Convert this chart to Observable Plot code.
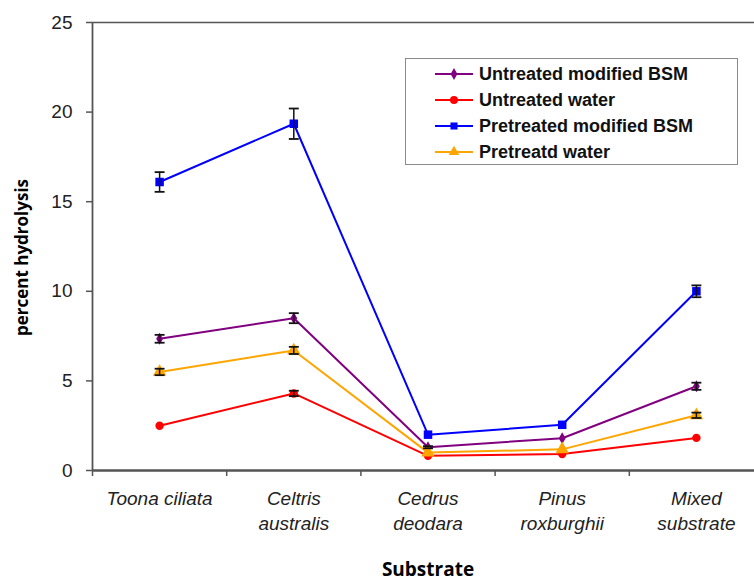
<!DOCTYPE html>
<html>
<head>
<meta charset="utf-8">
<script src="https://cdn.jsdelivr.net/npm/d3@7"></script>
<script src="https://cdn.jsdelivr.net/npm/@observablehq/plot@0.6"></script>
<style>
  html, body { margin: 0; padding: 0; background: #fff; }
  #wrap { position: relative; width: 754px; height: 580px; overflow: hidden; }
  #legend { position: absolute; left: 405px; top: 58px; width: 331px; height: 105px;
    border: 1.5px solid #8a8a8a; background: #fff; box-sizing: content-box;
    font-family: "Liberation Sans", Arial, sans-serif; font-weight: bold; font-size: 18px; color: #111; }
  .row { position: absolute; left: 0; height: 26px; display: flex; align-items: center; }
  .row svg { margin-left: 29px; margin-right: 6px; }
</style>
</head>
<body>
<div id="wrap"><div id="chart"></div><div id="legend"></div></div>
<script>
const categories = ["Toona ciliata", "Celtris\naustralis", "Cedrus\ndeodara", "Pinus\nroxburghii", "Mixed\nsubstrate"];
const seriesNames = ["Untreated modified BSM", "Untreated water", "Pretreated modified BSM", "Pretreatd water"];
const seriesColors = ["#800080", "#ff0000", "#0000ff", "#ffa500"];
const seriesSymbols = ["diamond", "circle", "square", "triangle"];
const seriesSizes = [3.6, 4.2, 4.8, 5];
const untreatedBSM = [7.35, 8.5, 1.3, 1.8, 4.7];
const untreatedBSMErr = [0.22, 0.28, 0.06, 0, 0.2];
const untreatedWater = [2.5, 4.3, 0.82, 0.92, 1.82];
const untreatedWaterErr = [0, 0.15, 0, 0, 0];
const pretreatedBSM = [16.1, 19.35, 2.0, 2.55, 10.0];
const pretreatedBSMErr = [0.55, 0.85, 0, 0, 0.33];
const pretreatedWater = [5.5, 6.7, 1.0, 1.18, 3.08];
const pretreatedWaterErr = [0.18, 0.2, 0, 0, 0.15];
const yTicks = [0, 5, 10, 15, 20, 25];

const seriesValues = [untreatedBSM, untreatedWater, pretreatedBSM, pretreatedWater];
const seriesErrors = [untreatedBSMErr, untreatedWaterErr, pretreatedBSMErr, pretreatedWaterErr];

const data = [];
seriesNames.forEach((s, k) => {
  seriesValues[k].forEach((v, i) => {
    data.push({series: s, k, i, v, e: seriesErrors[k][i]});
  });
});
const idx = categories.map((c, i) => i);
const bounds = [-0.5, 0.5, 1.5, 2.5, 3.5, 4.5];
const capHalf = 0.037;

const marks = [
  Plot.ruleY([25], {stroke: "#555", strokeWidth: 1.5}),
  Plot.ruleX([-0.5], {y1: 0, y2: 25, stroke: "#555", strokeWidth: 1.8}),
  Plot.axisY({ticks: yTicks, label: null, tickSize: 6, tickPadding: 14, fontSize: 19, fontFamily: "Liberation Sans, Arial, sans-serif", color: "#222", stroke: "#555", strokeWidth: 1.5}),
  Plot.axisX({ticks: bounds, label: null, tickFormat: () => "", tickSize: 6, stroke: "#555", strokeWidth: 1.5}),
  Plot.axisX({ticks: idx, label: null, tickSize: 0, tickPadding: 17, tickFormat: i => categories[i], fontSize: 19, fontStyle: "italic", fontFamily: "Liberation Sans, Arial, sans-serif", lineHeight: 1.32, lineAnchor: "top", color: "#222"}),
  Plot.ruleY([0], {stroke: "#555", strokeWidth: 2.5})
];
seriesNames.forEach((s, k) => {
  const d = data.filter(r => r.k === k);
  marks.push(Plot.line(d, {x: "i", y: "v", stroke: seriesColors[k], strokeWidth: 2}));
});
seriesNames.forEach((s, k) => {
  const d = data.filter(r => r.k === k);
  marks.push(Plot.dot(d, {x: "i", y: "v", symbol: seriesSymbols[k], r: seriesSizes[k], fill: seriesColors[k], stroke: "none"}));
});
const errs = data.filter(d => d.e > 0);
marks.push(Plot.ruleX(errs, {x: "i", y1: d => d.v - d.e, y2: d => d.v + d.e, stroke: "#111", strokeWidth: 1.5}));
marks.push(Plot.link(errs, {x1: d => d.i - capHalf, x2: d => d.i + capHalf, y1: d => d.v + d.e, y2: d => d.v + d.e, stroke: "#111", strokeWidth: 1.8}));
marks.push(Plot.link(errs, {x1: d => d.i - capHalf, x2: d => d.i + capHalf, y1: d => d.v - d.e, y2: d => d.v - d.e, stroke: "#111", strokeWidth: 1.8}));
marks.push(Plot.text(["percent hydrolysis"], {frameAnchor: "left", textAnchor: "middle", rotate: -90, dx: -70, dy: 11, fontSize: 17, fontWeight: "bold", fontFamily: "Open Sans, sans-serif", fill: "#000"}));
marks.push(Plot.text(["Substrate"], {frameAnchor: "bottom", dy: 105, fontSize: 19, fontWeight: "bold", fontFamily: "Open Sans, sans-serif", fill: "#000"}));

const chart = Plot.plot({
  width: 754,
  height: 580,
  marginTop: 22,
  marginBottom: 110,
  marginLeft: 92,
  marginRight: -9,
  x: {type: "linear", domain: [-0.5, 4.5]},
  y: {domain: [0, 25]},
  style: {background: "#fff", overflow: "hidden"},
  marks
});
document.getElementById("chart").appendChild(chart);

// legend
const legend = document.getElementById("legend");
const symPaths = seriesSymbols.map(s => ({
  diamond: d3.symbol(d3.symbolDiamond, 40)(),
  circle: d3.symbol(d3.symbolCircle, 50)(),
  square: d3.symbol(d3.symbolSquare, 50)(),
  triangle: d3.symbol(d3.symbolTriangle, 50)()
})[s]);
seriesNames.forEach((s, k) => {
  const row = document.createElement("div");
  row.className = "row";
  row.style.top = (2 + k * 26) + "px";
  row.innerHTML = `<svg width="38" height="14" viewBox="-19 -7 38 14"><line x1="-19" x2="19" y1="0" y2="0" stroke="${seriesColors[k]}" stroke-width="2"/><path d="${symPaths[k]}" fill="${seriesColors[k]}"/></svg><span>${s}</span>`;
  legend.appendChild(row);
});
</script>
</body>
</html>
